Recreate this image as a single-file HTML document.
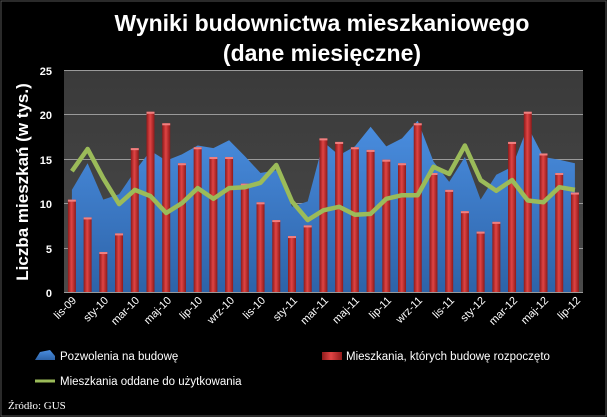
<!DOCTYPE html><html><head><style>body{margin:0;background:#000}svg{display:block}</style></head><body>
<svg id="s" width="607" height="417" xmlns="http://www.w3.org/2000/svg" font-family="Liberation Sans, sans-serif">
<defs>
<linearGradient id="pa" x1="0" y1="0" x2="0" y2="1"><stop offset="0" stop-color="#3a3a3a"/><stop offset="1" stop-color="#4a4a4a"/></linearGradient>
<linearGradient id="ar" x1="0" y1="0" x2="0" y2="1"><stop offset="0" stop-color="#4a8ee0"/><stop offset="1" stop-color="#2d63a8"/></linearGradient>
<linearGradient id="br" x1="0" y1="0" x2="1" y2="0"><stop offset="0" stop-color="#8e1a1a"/><stop offset="0.45" stop-color="#e04444"/><stop offset="1" stop-color="#8e1a1a"/></linearGradient>
</defs>
<rect x="0" y="0" width="607" height="417" fill="#000"/>
<rect x="1" y="1" width="605" height="415" fill="none" stroke="#555" stroke-width="1"/>
<rect x="64" y="70" width="519" height="222" fill="url(#pa)"/>
<g stroke="#9a9a9a" stroke-width="1">
<line x1="64" y1="70.5" x2="583" y2="70.5"/><line x1="64" y1="114.5" x2="583" y2="114.5"/><line x1="64" y1="159.5" x2="583" y2="159.5"/><line x1="64" y1="203.5" x2="583" y2="203.5"/><line x1="64" y1="248.5" x2="583" y2="248.5"/><line x1="64" y1="292.5" x2="583" y2="292.5"/>
</g>
<g id="data"></g>
<g fill="#fff" font-size="11" font-weight="bold" text-anchor="end">
<text x="52" y="75">25</text><text x="52" y="119">20</text><text x="52" y="164">15</text><text x="52" y="208">10</text><text x="52" y="253">5</text><text x="52" y="297">0</text>
</g>
<g fill="#fff" font-size="11" text-anchor="end" id="xl">
<text transform="translate(77,301) rotate(-45)">lis-09</text>
<text transform="translate(109,301) rotate(-45)">sty-10</text>
<text transform="translate(140,301) rotate(-45)">mar-10</text>
<text transform="translate(172,301) rotate(-45)">maj-10</text>
<text transform="translate(203,301) rotate(-45)">lip-10</text>
<text transform="translate(235,301) rotate(-45)">wrz-10</text>
<text transform="translate(266,301) rotate(-45)">lis-10</text>
<text transform="translate(298,301) rotate(-45)">sty-11</text>
<text transform="translate(329,301) rotate(-45)">mar-11</text>
<text transform="translate(360,301) rotate(-45)">maj-11</text>
<text transform="translate(392,301) rotate(-45)">lip-11</text>
<text transform="translate(423,301) rotate(-45)">wrz-11</text>
<text transform="translate(455,301) rotate(-45)">lis-11</text>
<text transform="translate(486,301) rotate(-45)">sty-12</text>
<text transform="translate(518,301) rotate(-45)">mar-12</text>
<text transform="translate(549,301) rotate(-45)">maj-12</text>
<text transform="translate(581,301) rotate(-45)">lip-12</text>
</g>
<text transform="translate(28,182) rotate(-90)" fill="#fff" font-size="17" font-weight="bold" text-anchor="middle">Liczba mieszkań (w tys.)</text>
<g fill="#fff" font-size="23" font-weight="bold" text-anchor="middle">
<text x="322" y="31">Wyniki budownictwa mieszkaniowego</text>
<text x="322" y="61">(dane miesięczne)</text>
</g>
<polygon points="35,360 40,352 50,350 55,356 55,360" fill="url(#ar)"/>
<text x="60" y="360" fill="#fff" font-size="11.5">Pozwolenia na budowę</text>
<rect x="322" y="352" width="20" height="8" fill="url(#br)"/>
<text x="346" y="360" fill="#fff" font-size="11.5">Mieszkania, których budowę rozpoczęto</text>
<line x1="35" y1="381" x2="55" y2="381" stroke="#9bbb59" stroke-width="3"/>
<text x="60" y="385" fill="#fff" font-size="11.5">Mieszkania oddane  do użytkowania</text>
<text x="8" y="409" fill="#fff" font-size="11" font-family="Liberation Serif, serif">Źródło: GUS</text>
</svg>
<script>
var A=[11.5,14.5,10.4,11,13.6,15.9,14.8,15.5,16.5,16.2,17.1,15.3,13.4,13.7,9.6,10.2,16.9,15.4,16.4,18.6,16.4,17.3,19.3,14.7,12.4,15.2,10.4,13.2,14.1,18.6,15.2,14.9,14.5];
var B=[10.4,8.4,4.5,6.6,16.2,20.3,19,14.5,16.3,15.2,15.2,12.2,10.1,8.1,6.3,7.5,17.3,16.9,16.3,16,14.9,14.5,19,13.4,11.5,9.1,6.8,7.9,16.9,20.3,15.6,13.4,11.2];
var G=[13.6,16.1,12.8,9.9,11.5,10.8,8.9,10,11.7,10.5,11.7,11.8,12.3,14.3,10.2,8.1,9.2,9.6,8.7,8.8,10.5,10.9,10.9,14.1,13.3,16.5,12.6,11.4,12.6,10.3,10.1,11.8,11.5];
function X(i){return 71.9+i*15.72}function Y(v){return 292-8.88*v}
var h='',p=X(0)+',292 ';A.forEach(function(v,i){p+=X(i).toFixed(1)+','+Y(v).toFixed(1)+' '});p+=X(32)+',292';
h+='<polygon points="'+p+'" fill="url(#ar)"/>';
B.forEach(function(v,i){h+='<rect x="'+(X(i)-4)+'" y="'+Y(v)+'" width="8" height="'+(292-Y(v))+'" fill="url(#br)"/><rect x="'+(X(i)-4)+'" y="'+Y(v)+'" width="8" height="2" fill="#f08080"/>'});
var l='';G.forEach(function(v,i){l+=X(i).toFixed(1)+','+Y(v).toFixed(1)+' '});
h+='<polyline points="'+l+'" fill="none" stroke="#9bbb59" stroke-width="4.5" stroke-linejoin="round"/>';
document.getElementById('data').innerHTML=h;
</script>
</body></html>
